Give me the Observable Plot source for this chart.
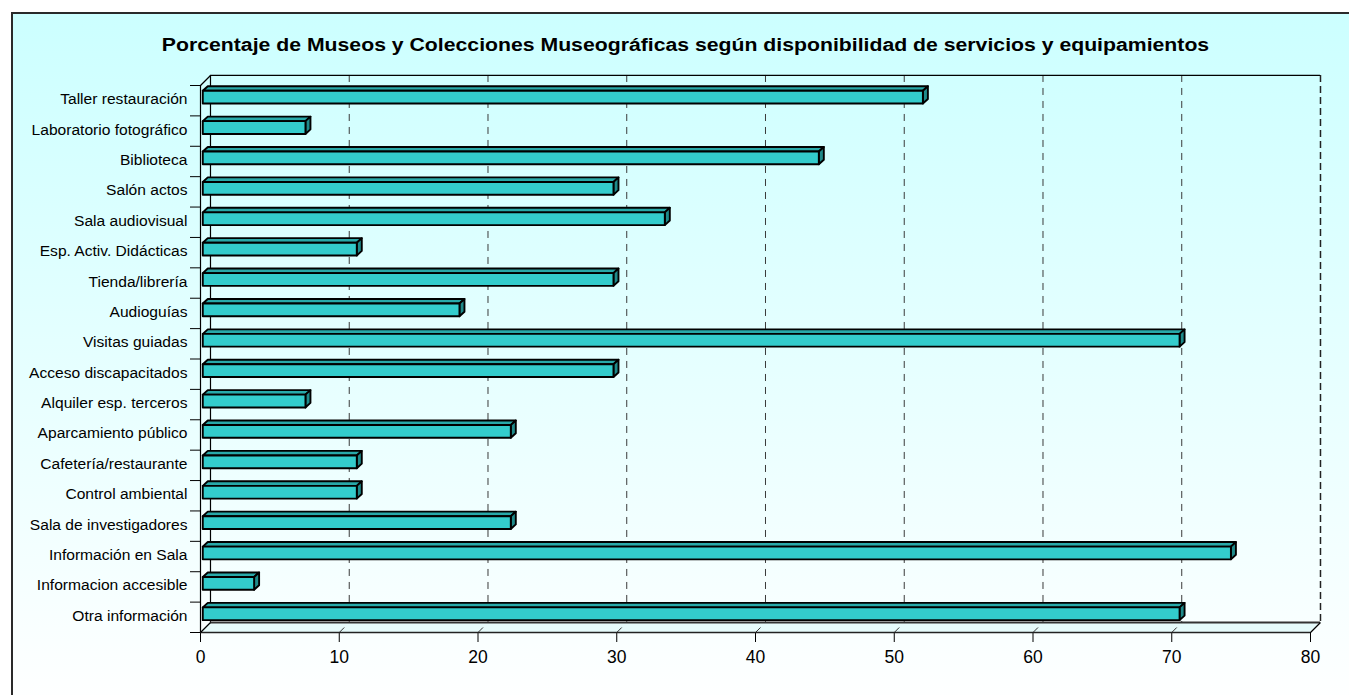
<!DOCTYPE html>
<html>
<head>
<meta charset="utf-8">
<script src="https://cdn.jsdelivr.net/npm/d3@7"></script>
<script src="https://cdn.jsdelivr.net/npm/@observablehq/plot@0.6"></script>
<style>
  html, body { margin: 0; padding: 0; background: #ffffff; }
  body { width: 1349px; height: 695px; position: relative; overflow: hidden; }
  #frame {
    position: absolute; left: 11px; top: 12px; width: 1360px; height: 700px;
    border: 2px solid #2a2a2a; box-sizing: border-box;
    background: linear-gradient(to bottom, #ccffff 0%, #ffffff 100%);
  }
  #title {
    position: absolute; left: 11px; top: 36px; width: 1349px; text-align: center;
    font-family: "Liberation Sans", Arial, sans-serif; font-weight: bold;
    font-size: 18.8px; line-height: 1; color: #000;
    transform: scaleX(1.13); transform-origin: 674.5px 0;
    white-space: nowrap;
  }
  #chart { position: absolute; left: 0; top: 0; }
</style>
</head>
<body>
<div id="frame"></div>
<div id="title"></div>
<div id="chart"></div>
<script>
// ---- data ----
const title = "Porcentaje de Museos y Colecciones Museográficas según disponibilidad de servicios y equipamientos";
const categories = [
  "Taller restauración",
  "Laboratorio fotográfico",
  "Biblioteca",
  "Salón actos",
  "Sala audiovisual",
  "Esp. Activ. Didácticas",
  "Tienda/librería",
  "Audioguías",
  "Visitas guiadas",
  "Acceso discapacitados",
  "Alquiler esp. terceros",
  "Aparcamiento público",
  "Cafetería/restaurante",
  "Control ambiental",
  "Sala de investigadores",
  "Información en Sala",
  "Informacion accesible",
  "Otra información"
];
const values = [51.9, 7.4, 44.4, 29.6, 33.3, 11.1, 29.6, 18.5, 70.4, 29.6, 7.4, 22.2, 11.1, 11.1, 22.2, 74.1, 3.7, 70.4];
const xTicks = [0, 10, 20, 30, 40, 50, 60, 70, 80];

// ---- geometry (in data units) ----
const N = categories.length;
const yTop = -0.5, yBot = N - 0.5;
const WX = 0.72, WY = 0.33;      // wall depth
const BX = 0.2, BY = 0.1;        // bar front-face offset into depth
const DX = 0.36, DY = 0.15;      // bar depth
const H = 0.21;                  // half bar height

const xMax = xTicks[xTicks.length - 1];
const inner = xTicks.filter(t => t > 0 && t < xMax);
const bounds = d3.range(N + 1).map(k => k - 0.5);

const rows = categories.map((name, i) => ({name, i, v: values[i]}));
const topPts = rows.flatMap(r => [
  {name: r.name, y: r.i - BY - H, x1: BX, x2: r.v + BX},
  {name: r.name, y: r.i - BY - H - DY, x1: BX + DX, x2: r.v + BX + DX}
]);
const sidePts = rows.flatMap(r => [
  {name: r.name, x: r.v + BX, y1: r.i - BY - H, y2: r.i - BY + H},
  {name: r.name, x: r.v + BX + DX, y1: r.i - BY - H - DY, y2: r.i - BY + H - DY}
]);
const floorPts = [
  {y: yBot, x1: 0, x2: xMax},
  {y: yBot - WY, x1: WX, x2: xMax + WX}
];
const corners = [
  {x1: 0, y1: yTop, x2: WX, y2: yTop - WY},
  {x1: 0, y1: yBot, x2: WX, y2: yBot - WY},
  {x1: xMax, y1: yBot, x2: xMax + WX, y2: yBot - WY}
];

document.getElementById("title").textContent = title;

const plot = Plot.plot({
  width: 1349,
  height: 695,
  marginLeft: 200,
  marginRight: 39,
  marginTop: 85,
  marginBottom: 63,
  style: {background: "transparent", fontFamily: "'Liberation Sans', Arial, sans-serif", fontSize: "17.5px", color: "#000", overflow: "visible"},
  x: {domain: [0, xMax], ticks: xTicks, tickSize: 10, tickPadding: 8.5, label: null},
  y: {domain: [yTop, yBot], range: [85, 632], ticks: bounds, tickFormat: () => "", tickSize: 10, label: null},
  marks: [
    // floor
    Plot.areaX(floorPts, {y: "y", x1: "x1", x2: "x2", fill: "#e6fbfb"}),
    // back wall grid lines
    Plot.ruleX(inner, {x: d => d + WX, y1: yTop - WY, y2: yBot - WY, stroke: "#3a3a3a", strokeWidth: 1, strokeDasharray: "7,6"}),
    Plot.ruleX([xMax], {x: d => d + WX, y1: yTop - WY, y2: yBot - WY, stroke: "#222", strokeWidth: 1.5, strokeDasharray: "7,4"}),
    Plot.ruleY([yTop - WY], {x1: WX, x2: xMax + WX, stroke: "#000", strokeWidth: 1.2}),
    Plot.ruleX([WX], {y1: yTop - WY, y2: yBot - WY, stroke: "#000", strokeWidth: 1.2}),
    Plot.ruleY([yBot - WY], {x1: WX, x2: xMax + WX, stroke: "#333", strokeWidth: 2}),
    // floor diagonals
    Plot.link(inner, {x1: d => d, y1: yBot, x2: d => d + WX / 2, y2: yBot - WY / 2, stroke: "#333", strokeWidth: 1}),
    // front edges
    Plot.ruleX([0], {y1: yTop, y2: yBot, stroke: "#000", strokeWidth: 1.2}),
    Plot.ruleY([yBot], {x1: 0, x2: xMax, stroke: "#222", strokeWidth: 1.5}),
    Plot.link(corners, {x1: "x1", y1: "y1", x2: "x2", y2: "y2", stroke: "#000", strokeWidth: 1.2}),
    // bars: top, side, front
    Plot.areaX(topPts, {y: "y", x1: "x1", x2: "x2", z: "name", fill: "#28a9a9", stroke: "#000", strokeWidth: 1.9, strokeLinejoin: "round"}),
    Plot.areaY(sidePts, {x: "x", y1: "y1", y2: "y2", z: "name", fill: "#1f8a8a", stroke: "#000", strokeWidth: 1.9, strokeLinejoin: "round"}),
    Plot.rect(rows, {x1: BX, x2: d => d.v + BX, y1: d => d.i - BY - H, y2: d => d.i - BY + H, fill: "#33cccc", stroke: "#000", strokeWidth: 1.9, strokeLinejoin: "round"}),
    // category labels
    Plot.text(rows, {x: 0, y: "i", text: "name", textAnchor: "end", dx: -13, dy: -1, fontSize: 14, fill: "#000"})
  ]
});

document.getElementById("chart").appendChild(plot);

// stretch category labels horizontally like the reference
plot.querySelectorAll('g[aria-label="text"] text').forEach(t => {
  const w = t.getComputedTextLength();
  t.setAttribute("textLength", (w * 1.113).toFixed(1));
  t.setAttribute("lengthAdjust", "spacingAndGlyphs");
});
</script>
</body>
</html>
